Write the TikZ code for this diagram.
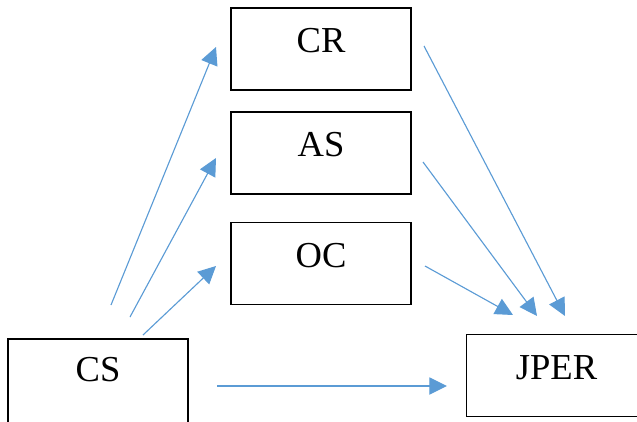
\documentclass[tikz,border=0pt]{standalone}
\usepackage{fontspec}
\setmainfont{Liberation Serif}
\usetikzlibrary{arrows.meta}
\definecolor{linkblue}{HTML}{5B9BD5}

\begin{document}
\begin{tikzpicture}[x=0.025cm,y=-0.025cm,
    var/.style={draw,line width=0.8pt,minimum width=4.5cm,inner xsep=0pt,inner ysep=0pt,
      text height=1.12cm,text depth=0.93cm,font=\fontsize{26}{28}\selectfont},
    link/.style={-{Triangle[length=0.44cm,width=0.43cm]},linkblue,line width=0.8pt}]
    \useasboundingbox (0,0) rectangle (637,421);
    % Variables
    \node[var] (cr) at (321,49) {CR};
    \node[var] (as) at (321,153) {AS};
    \node[var] (oc) at (321,263.5) {OC};
    \node[var,text height=1.07cm,text depth=1.08cm] (cs) at (98,382) {CS};
    \node[var] (jper) at (556.5,375.5) {JPER};
    % Ends of the arrows
    \coordinate (cs1) at (111,305);
    \coordinate (cs2) at (130,317);
    \coordinate (cs3) at (143,335);
    \coordinate (cs4) at (217,386);
    \coordinate (cr1) at (216,47);
    \coordinate (as1) at (216,158);
    \coordinate (oc1) at (216,266);
    \coordinate (cr2) at (424,46);
    \coordinate (as2) at (423,162);
    \coordinate (oc2) at (425,266);
    \coordinate (jp1) at (513,315);
    \coordinate (jp2) at (537,316);
    \coordinate (jp3) at (565,316);
    \coordinate (jp4) at (447,386);

    \draw[link] (cs1) -- (cr1);
    \draw[link] (cs2) -- (as1);
    \draw[link] (cs3) -- (oc1);
    \draw[link] (cs4) -- (jp4);
    \draw[link] (cr2) -- (jp3);
    \draw[link] (as2) -- (jp2);
    \draw[link] (oc2) -- (jp1);
\end{tikzpicture}
\end{document}
